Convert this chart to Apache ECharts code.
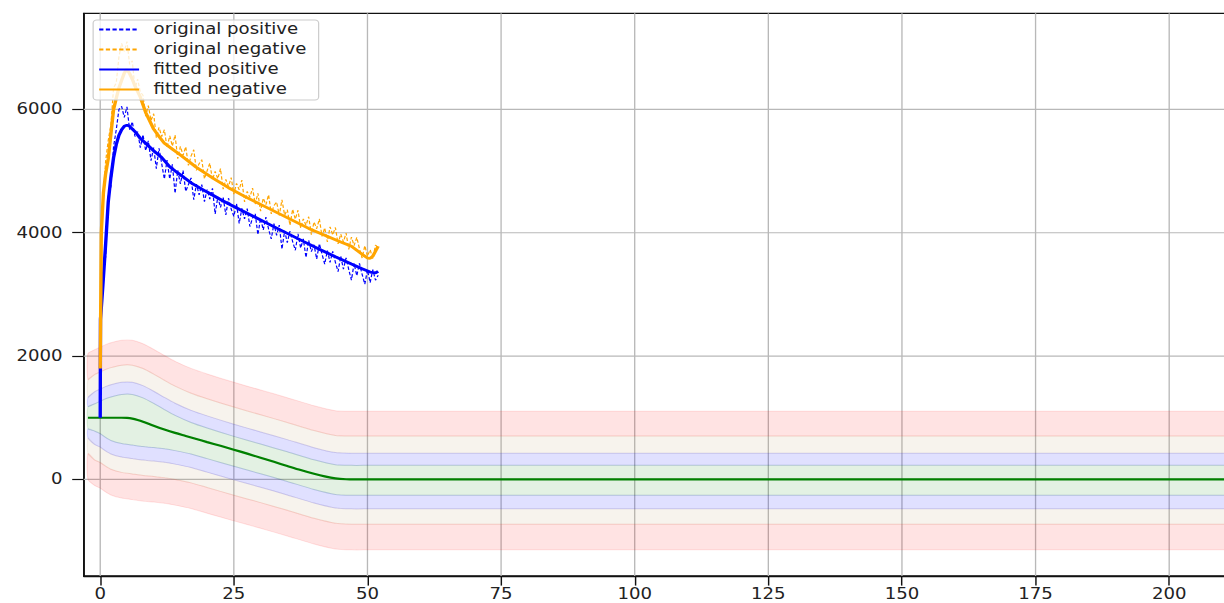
<!DOCTYPE html>
<html>
<head>
<meta charset="utf-8">
<script src="https://cdn.jsdelivr.net/npm/echarts@6/dist/echarts.min.js"></script>
<style>
html, body { margin: 0; padding: 0; background: #fff; overflow: hidden; }
/* the figure is laid out narrower and stretched horizontally to the window width */
#chart { width: 1012px; height: 603px; transform: scaleX(1.2095); transform-origin: 0 0; }
</style>
</head>
<body>
<div id="chart"></div>
<script>
// raw measurements, sampled every 0.5 from x = 0.5
const rawStart = 0.5;
const rawStep = 0.5;
const rawPositive = [
  3300, 3600, 4600, 4750, 5400, 5670, 6000, 6050, 5870, 6040,
  5670, 5800, 5560, 5640, 5380, 5590, 5330, 5490, 5170, 5380,
  5040, 5370, 5120, 4870, 5180, 4870, 5110, 4640, 5010, 4790,
  5010, 4670, 4780, 4890, 4535, 4790, 4615, 4780, 4505, 4700,
  4545, 4720, 4305, 4580, 4410, 4575, 4290, 4560, 4385, 4265,
  4470, 4150, 4395, 4225, 4390, 4100, 4240, 4310, 3968, 4235,
  4045, 4253, 4060, 3900, 4148, 3957, 4125, 3733, 4032, 3840,
  4028, 3857, 3715, 3983, 3752, 3900, 3598, 3877, 3695, 3805,
  3574, 3823, 3652, 3492, 3711, 3520, 3700, 3520, 3370, 3620,
  3410, 3592, 3402, 3232, 3502, 3302, 3503, 3325, 3166, 3398,
  3192, 3402, 3230, 3310
];
const rawNegative = [
  4500, 5150, 5500, 5750, 6350, 6430, 6850, 7070, 6940, 7100,
  6730, 6790, 6330, 6490, 6280, 6230, 5890, 6060, 5820, 5930,
  5540, 5710, 5560, 5670, 5380, 5570, 5405, 5585, 5200, 5400,
  5255, 5395, 5090, 5245, 5345, 5010, 5120, 5185, 4875, 5005,
  5130, 4860, 4995, 4875, 5040, 4705, 4865, 4750, 4895, 4625,
  4800, 4695, 4855, 4500, 4670, 4575, 4725, 4465, 4640, 4350,
  4560, 4455, 4615, 4305, 4440, 4500, 4280, 4535, 4285, 4375,
  4120, 4380, 4220, 4365, 4075, 4225, 4120, 4260, 3970, 4175,
  4065, 4225, 3940, 4080, 3850, 4095, 3965, 4085, 3820, 3980,
  3850, 3995, 3730, 3930, 3790, 3925, 3740, 3590, 3790, 3620,
  3725, 3580, 3800, 3760
];

// fitted curves as [x, value]
const fittedPositive = [
  [0, 1000], [0.05, 2600], [0.5, 3150], [1, 3800], [1.5, 4500], [2, 4900],
  [2.5, 5220], [3, 5430], [3.5, 5580], [4, 5670], [4.5, 5725], [5, 5745],
  [5.5, 5725], [6.5, 5640], [7.5, 5530], [8.5, 5450], [10, 5330], [11.5, 5220],
  [13, 5070], [14.5, 4970], [17, 4810], [20, 4660], [23, 4515], [26, 4380],
  [29, 4250], [32, 4120], [35, 3990], [38, 3860], [41, 3733], [44, 3610],
  [47, 3492], [49, 3415], [50.5, 3362], [51.5, 3350], [52, 3375]
];
const fittedNegative = [
  [0, 1800], [0.2, 4000], [0.6, 4650], [1, 4950], [1.5, 5200], [2, 5600],
  [2.5, 6000], [3, 6180], [3.5, 6350], [4, 6470], [4.5, 6590], [5, 6650],
  [5.5, 6580], [6, 6490], [6.5, 6380], [7.5, 6200], [8.5, 5950], [10, 5680],
  [11, 5560], [12, 5450], [13.5, 5355], [15, 5260], [18, 5060], [21, 4890],
  [24, 4730], [27, 4590], [30, 4460], [33, 4330], [36, 4200], [39, 4070],
  [42, 3960], [45, 3850], [47, 3780], [48, 3715], [49, 3650], [50, 3590],
  [50.5, 3585], [51, 3620], [51.5, 3700], [52, 3780]
];

// reference curve (green)
const baselineX = [-2.3, 0, 2, 4, 5, 6, 7, 8, 10, 12, 14, 16, 18, 20, 22.5, 25, 27.5, 30, 32.5, 35, 37.5, 40, 42, 44, 46, 47.5, 218];
const baselineY = [1000, 1000, 1000, 1000, 997, 985, 963, 935, 870, 810, 755, 705, 655, 605, 545, 482, 418, 352, 285, 218, 152, 92, 50, 18, 3, 0, 0];

// tolerance band edges around the reference curve
const bandX = [-2.3, -1, 0, 1, 2, 4, 6, 8, 10, 12, 14, 17, 20, 25, 30, 35, 40, 44, 47, 50, 60, 80, 100, 120, 140, 160, 180, 200, 210, 216, 218];
const pinkUpper  = [2040, 2105, 2145, 2185, 2215, 2255, 2255, 2200, 2110, 2010, 1915, 1800, 1710, 1575, 1450, 1325, 1195, 1115, 1105, 1105, 1105, 1105, 1105, 1105, 1105, 1105, 1105, 1105, 1105, 1105, 1105];
const beigeUpper = [1620, 1703, 1743, 1783, 1813, 1853, 1853, 1798, 1708, 1608, 1513, 1398, 1308, 1173, 1048, 923, 793, 713, 703, 703, 703, 703, 703, 703, 703, 703, 703, 703, 703, 703, 703];
const blueUpper  = [1330, 1425, 1465, 1505, 1535, 1575, 1575, 1520, 1430, 1330, 1235, 1120, 1030, 895, 770, 645, 515, 435, 425, 425, 425, 425, 425, 425, 425, 425, 425, 425, 425, 425, 425];
const greenUpper = [1180, 1228, 1268, 1308, 1338, 1378, 1378, 1323, 1233, 1133, 1038, 923, 833, 698, 573, 448, 318, 238, 228, 228, 228, 228, 228, 228, 228, 228, 228, 228, 228, 228, 228];
const greenLower = [820, 782, 742, 682, 632, 582, 557, 532, 517, 497, 467, 412, 337, 212, 92, -33, -163, -243, -258, -258, -258, -258, -258, -258, -258, -258, -258, -258, -258, -258, -258];
const blueLower  = [670, 563, 523, 463, 413, 363, 338, 313, 298, 278, 248, 193, 118, -7, -127, -252, -382, -462, -477, -477, -477, -477, -477, -477, -477, -477, -477, -477, -477, -477, -477];
const beigeLower = [420, 314, 274, 214, 164, 114, 89, 64, 49, 29, -1, -56, -131, -256, -376, -501, -631, -711, -726, -726, -726, -726, -726, -726, -726, -726, -726, -726, -726, -726, -726];
const pinkLower  = [0, -102, -142, -202, -252, -302, -327, -352, -367, -387, -417, -472, -547, -672, -792, -917, -1047, -1127, -1142, -1142, -1142, -1142, -1142, -1142, -1142, -1142, -1142, -1142, -1142, -1142, -1142];

const xTicks = [0, 25, 50, 75, 100, 125, 150, 175, 200];
const yTicks = [0, 2000, 4000, 6000];
const xRange = [-3.07, 212];
const yRange = [-1566, 7558];

const PINK = 'rgba(255,0,0,0.11)';
const BEIGE = 'rgba(190,160,110,0.12)';
const LAVENDER = 'rgba(0,0,255,0.12)';
const MINT = 'rgba(0,128,0,0.11)';

// each ring is the area between two edges
const rings = [
  { a: pinkUpper, b: beigeUpper, color: PINK },
  { a: beigeLower, b: pinkLower, color: PINK },
  { a: beigeUpper, b: blueUpper, color: BEIGE },
  { a: blueLower, b: beigeLower, color: BEIGE },
  { a: blueUpper, b: greenUpper, color: LAVENDER },
  { a: greenLower, b: blueLower, color: LAVENDER },
  { a: greenUpper, b: greenLower, color: MINT }
];

const rawPts = (arr) => arr.map((v, i) => [rawStart + i * rawStep, v]);
const FONT = 'DejaVu Sans';
const GRID_COLOR = '#b8b8b8';

const chart = echarts.init(document.getElementById('chart'), null, { renderer: 'svg' });
chart.setOption({
  animation: false,
  backgroundColor: '#ffffff',
  grid: {
    left: 69.3, right: -7.7, top: 13.3, bottom: 27,
    containLabel: false, outerBoundsMode: 'none',
    show: true, borderColor: '#111', borderWidth: 1.3, backgroundColor: 'transparent'
  },
  legend: {
    orient: 'vertical', left: 77, top: 20,
    padding: [2, 10, 3, 4],
    itemWidth: 33, itemHeight: 14, itemGap: 5,
    backgroundColor: 'rgba(255,255,255,0.8)',
    borderColor: '#cccccc', borderWidth: 1, borderRadius: 3,
    selectedMode: false,
    itemStyle: { opacity: 0, borderWidth: 0 },
    textStyle: { fontFamily: FONT, fontSize: 15, color: '#222', padding: [0, 0, 0, 7] },
    data: ['original positive', 'original negative', 'fitted positive', 'fitted negative']
  },
  xAxis: {
    type: 'value', min: xRange[0], max: xRange[1],
    axisLine: { show: true, onZero: false, lineStyle: { color: '#111', width: 1.3 } },
    axisTick: { show: true, customValues: xTicks, length: 9.6, lineStyle: { color: '#111', width: 1.2 } },
    axisLabel: { customValues: xTicks, formatter: v => String(v), fontFamily: FONT, fontSize: 15, color: '#222', margin: 11 },
    splitLine: { show: false }
  },
  yAxis: {
    type: 'value', min: yRange[0], max: yRange[1],
    axisLine: { show: true, onZero: false, lineStyle: { color: '#111', width: 1.3 } },
    axisTick: { show: true, customValues: yTicks, length: 9.6, lineStyle: { color: '#111', width: 1.2 } },
    axisLabel: { customValues: yTicks, formatter: v => String(v), fontFamily: FONT, fontSize: 15, color: '#222', margin: 17.5 },
    splitLine: { show: false }
  },
  series: [
    {
      // vertical grid lines
      type: 'custom', name: 'grid-x', silent: true,
      data: xTicks.map(v => [v, 0]),
      renderItem: (params, api) => {
        const v = xTicks[params.dataIndex];
        const p0 = api.coord([v, yRange[0]]);
        const p1 = api.coord([v, yRange[1]]);
        return { type: 'line', shape: { x1: p0[0], y1: p0[1], x2: p1[0], y2: p1[1] },
                 style: { stroke: GRID_COLOR, lineWidth: 1.1 } };
      }
    },
    {
      // horizontal grid lines
      type: 'custom', name: 'grid-y', silent: true,
      data: yTicks.map(v => [0, v]),
      renderItem: (params, api) => {
        const v = yTicks[params.dataIndex];
        const p0 = api.coord([xRange[0], v]);
        const p1 = api.coord([xRange[1], v]);
        return { type: 'line', shape: { x1: p0[0], y1: p0[1], x2: p1[0], y2: p1[1] },
                 style: { stroke: GRID_COLOR, lineWidth: 1.1 } };
      }
    },
    {
      // tolerance bands
      type: 'custom', name: 'bands', silent: true,
      data: rings.map((r, i) => [0, i]),
      renderItem: (params, api) => {
        const r = rings[params.dataIndex];
        const pts = [];
        for (let i = 0; i < bandX.length; i++) pts.push(api.coord([bandX[i], r.a[i]]));
        for (let i = bandX.length - 1; i >= 0; i--) pts.push(api.coord([bandX[i], r.b[i]]));
        return { type: 'polygon', shape: { points: pts, smooth: 0.2 },
                 style: { fill: r.color, stroke: r.color, lineWidth: 1 } };
      }
    },
    {
      type: 'line', name: 'reference',
      data: baselineX.map((x, i) => [x, baselineY[i]]),
      symbol: 'none', smooth: 0.3,
      lineStyle: { color: '#008000', width: 2.2 }
    },
    {
      type: 'line', name: 'original positive',
      data: rawPts(rawPositive),
      symbol: 'none', itemStyle: { color: '#0000ff' },
      lineStyle: { color: '#0000ff', width: 1, type: [3.5, 2] }
    },
    {
      type: 'line', name: 'original negative',
      data: rawPts(rawNegative),
      symbol: 'none', itemStyle: { color: '#ffa500' },
      lineStyle: { color: '#ffa500', width: 1, type: [3.5, 2] }
    },
    {
      type: 'line', name: 'fitted positive',
      data: fittedPositive,
      symbol: 'none', itemStyle: { color: '#0000ff' },
      lineStyle: { color: '#0000ff', width: 2.8 }
    },
    {
      type: 'line', name: 'fitted negative',
      data: fittedNegative,
      symbol: 'none', itemStyle: { color: '#ffa500' },
      lineStyle: { color: '#ffa500', width: 2.8 }
    }
  ]
});
</script>
</body>
</html>
